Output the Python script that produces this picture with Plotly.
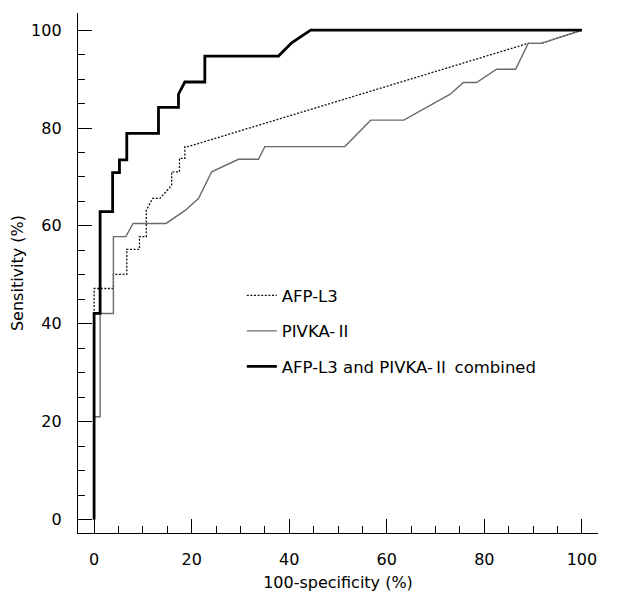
import plotly.graph_objects as go

# AFP-L3 ROC curve (100-specificity %, sensitivity %)
afp_x = [0, 0, 3.96, 3.96, 6.7, 6.7, 9.3, 9.3, 10.7, 10.7, 12.0, 13.5, 15.9, 15.9, 17.5, 17.5, 18.6, 18.6, 19.3, 89.0, 91.7, 100]
afp_y = [0, 47.2, 47.2, 50.1, 50.1, 55.2, 55.2, 57.8, 57.8, 63.2, 65.6, 65.6, 68.3, 71.05, 71.05, 73.8, 73.8, 76.2, 76.2, 97.3, 97.3, 100]

# PIVKA-II ROC curve
pivka_x = [0, 0, 1.23, 1.23, 3.96, 3.96, 6.5, 8.0, 14.75, 18.6, 21.4, 24.1, 29.6, 33.7, 35.0, 51.4, 56.7, 63.5, 73.0, 75.7, 78.4, 82.5, 86.4, 89.0, 91.7, 100]
pivka_y = [0, 21.0, 21.0, 42.1, 42.1, 57.8, 57.8, 60.5, 60.5, 63.1, 65.6, 71.05, 73.6, 73.6, 76.2, 76.2, 81.6, 81.6, 86.9, 89.3, 89.3, 92.0, 92.0, 97.3, 97.3, 100]

# Combined ROC curve
comb_x = [0, 0, 1.23, 1.23, 3.8, 3.8, 5.2, 5.2, 6.7, 6.7, 13.2, 13.2, 17.3, 17.3, 18.6, 22.7, 22.7, 37.8, 40.5, 44.4, 100]
comb_y = [0, 42.1, 42.1, 62.9, 62.9, 70.9, 70.9, 73.5, 73.5, 78.9, 78.9, 84.2, 84.2, 86.9, 89.4, 89.4, 94.7, 94.7, 97.4, 100, 100]

II = '<span style="font-family:\'Noto Sans CJK JP\'">Ⅱ</span>'
names = ["AFP-L3", "PIVKA-" + II, "AFP-L3 and PIVKA-" + II + " combined"]

FONT = "DejaVu Sans"

fig = go.Figure()
fig.add_trace(go.Scatter(x=afp_x, y=afp_y, mode="lines", name=names[0], legendgroup="a",
                         line=dict(color="#111111", width=1.3, dash="2px,1.6px")))
fig.add_trace(go.Scatter(x=pivka_x, y=pivka_y, mode="lines", name=names[1], legendgroup="b",
                         line=dict(color="#6a6a6a", width=1.4)))
fig.add_trace(go.Scatter(x=comb_x, y=comb_y, mode="lines", name=names[2], legendgroup="c",
                         line=dict(color="#000000", width=2.8)))

axis_common = dict(
    showline=True, linecolor="black", linewidth=1.3,
    ticks="inside", ticklen=14, tickwidth=1.2, tickcolor="black",
    showgrid=False, zeroline=False, mirror=False,
    tickfont=dict(family=FONT, size=16, color="black"),
    dtick=20, tick0=0,
    minor=dict(ticks="inside", ticklen=7, tickwidth=1.1, tickcolor="black", dtick=5, tick0=0, showgrid=False),
)

fig.update_xaxes(range=[-3.3, 103.3], ticklabelstandoff=12,
                 title=dict(text="100-specificity (%)", font=dict(family=FONT, size=16, color="black"), standoff=8),
                 **axis_common)
fig.update_yaxes(range=[-2.76, 103.5], ticklabelstandoff=12,
                 title=dict(text="Sensitivity (%)", font=dict(family=FONT, size=16, color="black"), standoff=5),
                 **axis_common)

# page body has an 8px margin, so the figure is 8px smaller and offsets compensate
fig.update_layout(
    width=622, height=595,
    margin=dict(l=70, r=32, t=5, b=70),
    paper_bgcolor="white", plot_bgcolor="white",
    font=dict(family=FONT, size=16, color="black"),
    legend=dict(x=0.315, y=0.49, xanchor="left", yanchor="top",
                bgcolor="rgba(0,0,0,0)", tracegroupgap=11,
                font=dict(family=FONT, size=16.5, color="black")),
    showlegend=True,
)

fig.write_html("out.html")
